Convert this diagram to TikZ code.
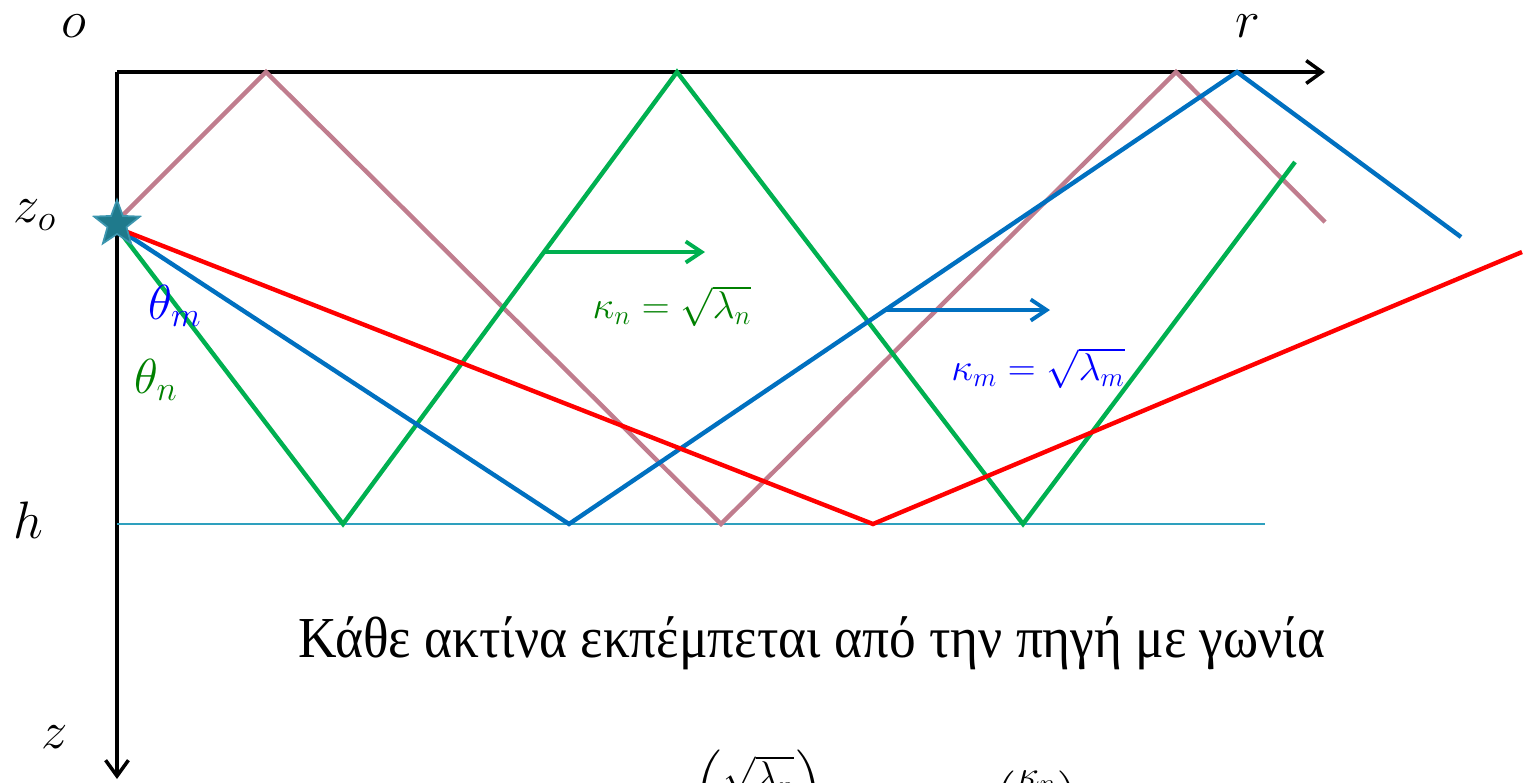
\RequirePackage{fix-cm}
\documentclass[tikz,border=0pt]{standalone}
\usepackage{amsmath}
\usepackage{fontspec}
\setmainfont{Liberation Serif}
\usetikzlibrary{arrows.meta,shapes.geometric}
\definecolor{raypink}{RGB}{192,125,142}
\definecolor{raygreen}{RGB}{0,176,80}
\definecolor{rayblue}{RGB}{0,112,192}
\definecolor{rayred}{RGB}{255,0,0}
\definecolor{hline}{RGB}{46,160,190}
\definecolor{starfill}{RGB}{31,122,140}
\definecolor{starline}{RGB}{60,150,175}
\definecolor{labgreen}{RGB}{0,128,0}
\definecolor{labblue}{RGB}{0,0,255}
\tikzset{
  axis/.style={line width=2pt,-{Straight Barb[length=9pt,width=13pt,line width=2pt]}},
  ray/.style={line width=2.5pt,line join=miter},
  karrow/.style={line width=2.2pt,-{Straight Barb[length=9pt,width=12pt,line width=2.2pt]}},
  axlabel/.style={font=\fontsize{30}{36}\selectfont,inner sep=0pt},
  thlabel/.style={font=\fontsize{28}{32}\selectfont,inner sep=0pt},
  klabel/.style={font=\fontsize{22}{26}\selectfont,inner sep=0pt},
}
\begin{document}
\begin{tikzpicture}[x=0.02cm,y=-0.02cm]
\useasboundingbox (0,0) rectangle (1525,782);
\clip (0,0) rectangle (1525,782);
% axes
\coordinate (O) at (117,72);
\coordinate (rend) at (1325,72);
\coordinate (zend) at (117,779);
\draw[axis] (O) -- (rend);
\draw[axis] (O) -- (zend);
% h line
\coordinate (h0) at (117,524);
\coordinate (h1) at (1265,524);
\draw[hline,line width=1.3pt] (h0) -- (h1);
% rays
\coordinate (S) at (117,228);
\draw[ray,raypink] (117,221) -- (266,72) -- (721,524) -- (1176,72) -- (1325,222);
\draw[ray,raygreen] (S) -- (343,524) -- (677,72) -- (1023,524) -- (1295,162);
\draw[ray,rayblue] (S) -- (569,524) -- (1237,72) -- (1461,237);
\draw[ray,rayred] (S) -- (873,524) -- (1522,252);
% source star
\node[star,star points=5,star point ratio=2.4,minimum size=48*0.02cm,inner sep=0pt,
      fill=starfill,draw=starline,line width=1pt] (star) at (117,224) {};
% k arrows
\coordinate (ga0) at (544,252);
\coordinate (ga1) at (705,252);
\draw[karrow,raygreen] (ga0) -- (ga1);
\coordinate (ba0) at (885,310);
\coordinate (ba1) at (1050,310);
\draw[karrow,rayblue] (ba0) -- (ba1);
% labels
\node[axlabel] (lo) at (74,26) {$o$};
\node[axlabel] (lr) at (1248,26) {$r$};
\node[axlabel] (lzo) at (35,215) {$z_o$};
\node[axlabel] (lh) at (28,520) {$h$};
\node[axlabel] (lz) at (55,737) {$z$};
\node[thlabel,labblue] (thm) at (175,306) {$\theta_m$};
\node[thlabel,labgreen] (thn) at (156,380) {$\theta_n$};
\node[klabel,labgreen] (kn) at (672,306) {$\kappa_n=\sqrt{\lambda_n}$};
\node[klabel,labblue] (km) at (1038,368) {$\kappa_m=\sqrt{\lambda_m}$};
% greek text
\node[inner sep=0pt] (txt) at (812,643) {\scalebox{0.92}[1]{\fontsize{33}{39}\selectfont Κάθε ακτίνα εκπέμπεται από την πηγή με γωνία}};
% bottom formula (clipped by the picture edge, as in the reference)
\node[klabel] (f1) at (759,805) {$\left(\dfrac{\sqrt{\lambda_n}}{k}\right)$};
\node[klabel] (f2) at (1037,805) {$\left(\dfrac{\kappa_n}{k}\right)$};
\end{tikzpicture}
\end{document}
